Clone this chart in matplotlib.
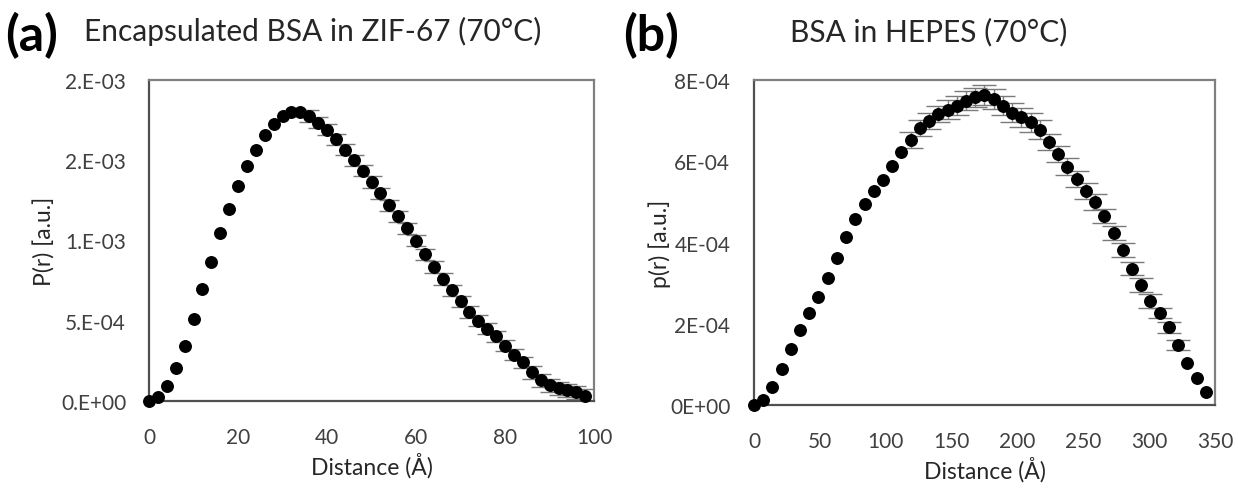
import numpy as np
import matplotlib
matplotlib.use("Agg")
import matplotlib.pyplot as plt

plt.rcParams["font.family"] = ["Lato", "DejaVu Sans"]

# (a) encapsulated BSA in ZIF-67, P(r) vs distance
dist_a = np.arange(0, 100, 2)
pr_a = [
    0.0, 2.7e-5, 9.3e-5, 2.07e-4, 3.42e-4, 5.12e-4, 6.95e-4, 8.67e-4,
    1.044e-3, 1.197e-3, 1.337e-3, 1.461e-3, 1.565e-3, 1.656e-3, 1.725e-3,
    1.773e-3, 1.798e-3, 1.800e-3, 1.775e-3, 1.735e-3, 1.690e-3, 1.630e-3,
    1.565e-3, 1.500e-3, 1.435e-3, 1.365e-3, 1.295e-3, 1.220e-3, 1.150e-3,
    1.075e-3, 0.998e-3, 0.915e-3, 0.835e-3, 0.760e-3, 0.690e-3, 0.620e-3,
    0.555e-3, 0.500e-3, 0.450e-3, 0.403e-3, 0.345e-3, 0.288e-3, 0.240e-3,
    0.180e-3, 0.128e-3, 0.097e-3, 0.080e-3, 0.068e-3, 0.055e-3, 0.033e-3,
]
err_a = [0.0] * 18 + [3.5e-5] * 25 + [4.0e-5] * 7

# (b) BSA in HEPES, P(r) vs distance
dist_b = np.arange(0, 350, 7)
pr_b = [
    0.0, 1.2e-5, 4.4e-5, 8.9e-5, 1.39e-4, 1.85e-4, 2.26e-4, 2.67e-4,
    3.12e-4, 3.62e-4, 4.13e-4, 4.58e-4, 4.95e-4, 5.26e-4, 5.55e-4,
    5.89e-4, 6.24e-4, 6.53e-4, 6.81e-4, 7.00e-4, 7.16e-4, 7.27e-4,
    7.37e-4, 7.49e-4, 7.57e-4, 7.63e-4, 7.53e-4, 7.37e-4, 7.20e-4,
    7.08e-4, 6.96e-4, 6.78e-4, 6.48e-4, 6.18e-4, 5.87e-4, 5.56e-4,
    5.27e-4, 4.99e-4, 4.66e-4, 4.23e-4, 3.82e-4, 3.36e-4, 2.95e-4,
    2.57e-4, 2.26e-4, 1.91e-4, 1.48e-4, 1.03e-4, 6.6e-5, 3.1e-5,
]
err_b = ([0.0] * 17 + [2.0e-5] * 4 + [2.4e-5] * 11 + [2.0e-5] * 6
         + [1.7e-5] * 6 + [1.3e-5] * 3 + [0.0] * 3)

yticks_a = [0.0, 5e-4, 1e-3, 1.5e-3, 2e-3]
ylabels_a = ["0.E+00", "5.E-04", "1.E-03", "2.E-03", "2.E-03"]
xticks_a = [0, 20, 40, 60, 80, 100]

yticks_b = [0.0, 2e-4, 4e-4, 6e-4, 8e-4]
ylabels_b = ["0E+00", "2E-04", "4E-04", "6E-04", "8E-04"]
xticks_b = [0, 50, 100, 150, 200, 250, 300, 350]

TEXT = "#262626"
TICK = "#404040"


def style_axes(ax, xticks, yticks, ylabels, xlim, ylim, ypad):
    ax.set_xlim(*xlim)
    ax.set_ylim(*ylim)
    ax.set_xticks(xticks)
    ax.set_yticks(yticks)
    ax.set_yticklabels(ylabels)
    ax.tick_params(length=0, labelsize=15, colors=TICK)
    ax.tick_params(axis="x", pad=18.5)
    ax.tick_params(axis="y", pad=ypad)
    for side in ("top", "right"):
        ax.spines[side].set_color("#808080")
    for side in ("left", "bottom"):
        ax.spines[side].set_color("#505050")
    for sp in ax.spines.values():
        sp.set_linewidth(1.6)


def draw_pr(ax, x, y, err, capsize):
    x = np.asarray(x)
    y = np.asarray(y)
    err = np.asarray(err)
    shown = err > 0
    ax.errorbar(x[shown], y[shown], yerr=err[shown], fmt="none",
                ecolor="#7a7a7a", elinewidth=1.0, capsize=capsize,
                capthick=1.0, zorder=2)
    ax.plot(x, y, "o", color="black", markersize=8.3, zorder=3,
            clip_on=False)


def set_labels(ax, ylabel, xlab_y, ylab_x):
    ax.set_xlabel("Distance (Å)", fontsize=16.5, color=TEXT)
    ax.set_ylabel(ylabel, fontsize=16.5, color=TEXT)
    ax.xaxis.set_label_coords(0.5, xlab_y)
    ax.xaxis.label.set_va("center")
    ax.yaxis.set_label_coords(ylab_x, 0.5)
    ax.yaxis.label.set_va("center")


fig = plt.figure(figsize=(12.38, 4.89), dpi=100)
ax_a = fig.add_axes([0.1204, 0.1779, 0.3595, 0.6565])
ax_b = fig.add_axes([0.6090, 0.1697, 0.3724, 0.6646])

draw_pr(ax_a, dist_a, pr_a, err_a, capsize=7)
style_axes(ax_a, xticks_a, yticks_a, ylabels_a, (0, 100), (0, 2e-3), 16.5)
set_labels(ax_a, "P(r) [a.u.]", -0.199, -0.234)

draw_pr(ax_b, dist_b, pr_b, err_b, capsize=8.5)
style_axes(ax_b, xticks_b, yticks_b, ylabels_b, (0, 350), (0, 8e-4), 17)
set_labels(ax_b, "p(r) [a.u.]", -0.197, -0.204)

fig.text(0.004, 0.928, "(a)", fontsize=36, fontweight="bold", color="black",
         va="center", ha="left")
fig.text(0.068, 0.935, "Encapsulated BSA in ZIF-67 (70°C)", fontsize=21.5,
         color=TEXT, va="center", ha="left")
fig.text(0.503, 0.928, "(b)", fontsize=36, fontweight="bold", color="black",
         va="center", ha="left")
fig.text(0.638, 0.935, "BSA in HEPES (70°C)", fontsize=21.5,
         color=TEXT, va="center", ha="left")

fig.savefig("out.png", dpi=100, facecolor="white")
